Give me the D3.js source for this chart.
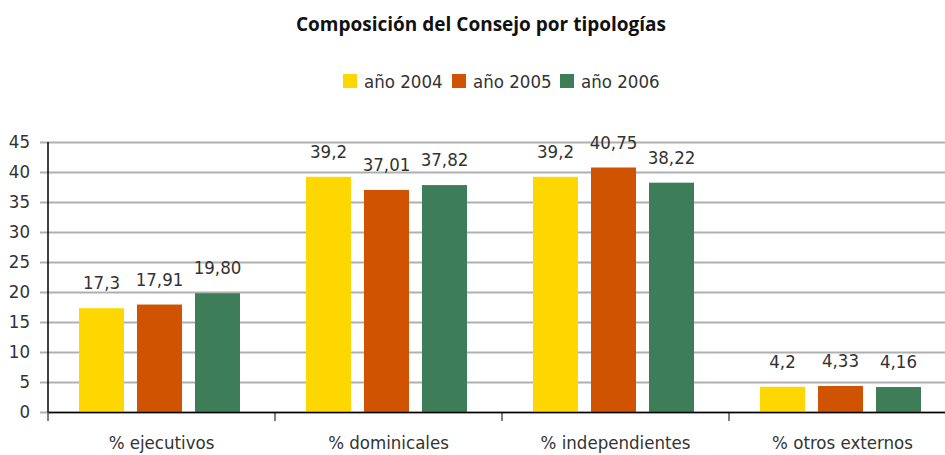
<!DOCTYPE html>
<html>
<head>
<meta charset="utf-8">
<script src="https://cdn.jsdelivr.net/npm/d3@7"></script>
<style>
  body { margin: 0; background: #fff; }
  text { font-family: "DejaVu Sans Condensed", "Liberation Sans Narrow", sans-serif; }
  .title { font-family: "Open Sans", "Noto Sans", sans-serif; }
</style>
</head>
<body>
<div id="chart"></div>
<script>
// data
var categories = ["% ejecutivos", "% dominicales", "% independientes", "% otros externos"];
var years = ["año 2004", "año 2005", "año 2006"];
var values2004 = [17.3, 39.2, 39.2, 4.2];
var values2005 = [17.91, 37.01, 40.75, 4.33];
var values2006 = [19.80, 37.82, 38.22, 4.16];
var labels2004 = ["17,3", "39,2", "39,2", "4,2"];
var labels2005 = ["17,91", "37,01", "40,75", "4,33"];
var labels2006 = ["19,80", "37,82", "38,22", "4,16"];
var yTicks = [0, 5, 10, 15, 20, 25, 30, 35, 40, 45];
var colors = ["#FFD700", "#CF5300", "#3D7D58"];

function init() {
    var w = 945, h = 455;
    var series = [
        { name: years[0], values: values2004, labels: labels2004 },
        { name: years[1], values: values2005, labels: labels2005 },
        { name: years[2], values: values2006, labels: labels2006 }
    ];

    var svg = d3.select("#chart").append("svg")
        .attr("width", w).attr("height", h);

    var x = d3.scaleBand().domain(categories).range([48, 956]);
    var xInner = d3.scaleBand().domain(years)
        .range([31, 192])
        .paddingInner(0.224);
    var y = d3.scaleLinear().domain([0, 45]).range([412, 142]);
    var color = d3.scaleOrdinal(years, colors);

    // title
    svg.append("text")
        .attr("class", "title")
        .attr("x", 481).attr("y", 31)
        .attr("text-anchor", "middle")
        .style("font-size", "19px").style("font-weight", "bold")
        .attr("fill", "#111")
        .text("Composición del Consejo por tipologías");

    // legend
    var legendX = [343, 452, 560];
    var leg = svg.selectAll("g.leg").data(years).enter().append("g")
        .attr("class", "leg")
        .attr("transform", function(d, i) { return "translate(" + legendX[i] + ",74)"; });
    leg.append("rect").attr("width", 14).attr("height", 14)
        .attr("fill", function(d) { return color(d); });
    leg.append("text").attr("x", 21).attr("y", 14)
        .style("font-size", "18.5px").attr("fill", "#333")
        .text(function(d) { return d; });

    // gridlines + y axis
    var yAxis = d3.axisLeft(y).tickValues(yTicks).tickSize(-(w - 40)).tickPadding(10);
    var gy = svg.append("g").attr("transform", "translate(40,0)").call(yAxis);
    gy.select(".domain").remove();
    gy.selectAll(".tick line").attr("stroke", "#b0b0b0").attr("stroke-width", 2);
    gy.selectAll(".tick text").style("font-size", "18.5px").attr("fill", "#333");

    // bars
    var groups = svg.selectAll("g.grp").data(series).enter().append("g")
        .attr("class", "grp");
    function rows(s) {
        return categories.map(function(c, i) { return { cat: c, s: s.name, v: s.values[i], label: s.labels[i] }; });
    }
    groups.selectAll("rect").data(rows).enter().append("rect")
        .attr("x", function(d) { return x(d.cat) + xInner(d.s); })
        .attr("width", xInner.bandwidth())
        .attr("y", function(d) { return y(d.v); })
        .attr("height", function(d) { return y(0) - y(d.v); })
        .attr("fill", function(d) { return color(d.s); });
    groups.selectAll("text").data(rows).enter().append("text")
        .attr("x", function(d) { return x(d.cat) + xInner(d.s) + xInner.bandwidth() / 2; })
        .attr("y", function(d) { return y(d.v) - 19; })
        .attr("text-anchor", "middle")
        .style("font-size", "18.5px").attr("fill", "#333")
        .text(function(d) { return d.label; });

    // x axis
    var xAxis = d3.axisBottom(x).tickSize(0).tickPadding(24);
    var gx = svg.append("g").attr("transform", "translate(0,412)").call(xAxis);
    gx.select(".domain").attr("stroke", "#000").attr("stroke-width", 1.5);
    gx.selectAll(".tick text").style("font-size", "18.5px").attr("fill", "#333");
    // category separators
    gx.selectAll("line.sep").data(categories).enter().append("line")
        .attr("class", "sep")
        .attr("x1", function(d) { return x(d); }).attr("x2", function(d) { return x(d); })
        .attr("y1", 0).attr("y2", 9)
        .attr("stroke", "#000").attr("stroke-width", 1);

    // y axis line
    svg.append("line")
        .attr("x1", 48).attr("x2", 48)
        .attr("y1", y(45)).attr("y2", y(0))
        .attr("stroke", "#000").attr("stroke-width", 1.5);
}

window.onload = init;
</script>
</body>
</html>
